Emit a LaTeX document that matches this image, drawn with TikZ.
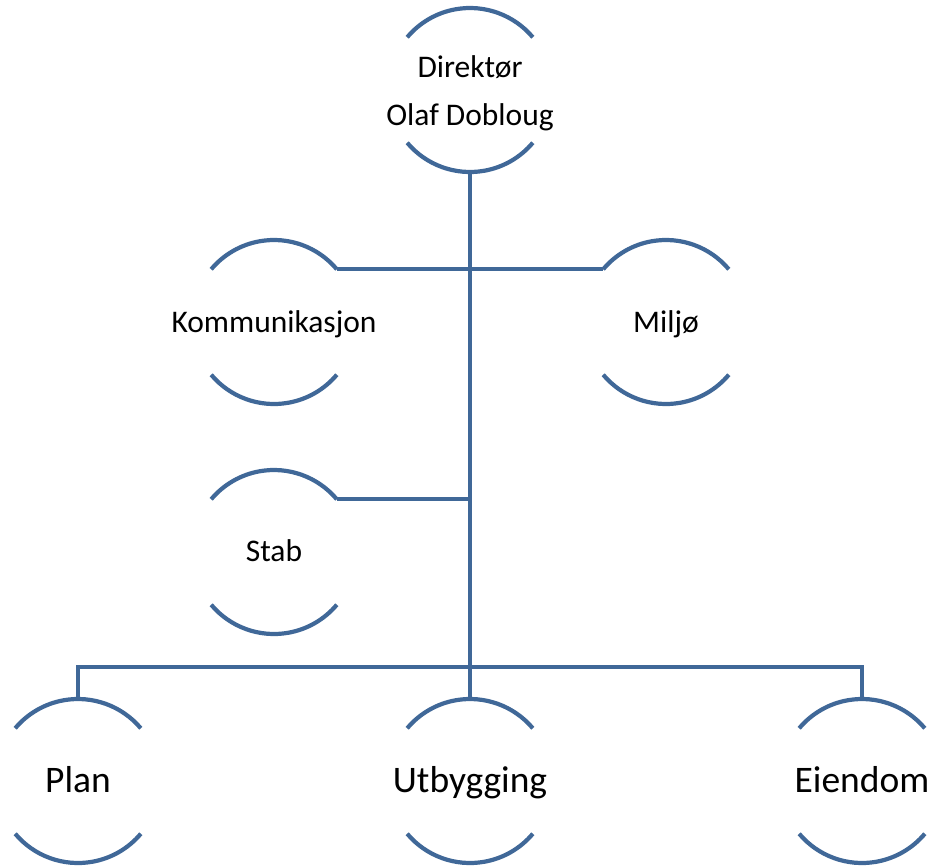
\documentclass[tikz,border=0pt]{standalone}
\usepackage{fontspec}
\setmainfont{Carlito}
\definecolor{arcblue}{RGB}{64,104,152}
\begin{document}
\begin{tikzpicture}[x=1pt,y=1pt,
  unit/.style={circle,minimum size=164pt,inner sep=0pt,outer sep=0pt},
  txt/.style={inner sep=0pt,align=center,text height=0.7em,text depth=0.2em},
  small/.style={txt,font=\fontsize{31.5}{38}\selectfont},
  large/.style={txt,font=\fontsize{37.5}{45}\selectfont},
  ln/.style={draw=arcblue,line width=4.2pt}]
\useasboundingbox (0,0) rectangle (933,-865);
\node[unit] (dir) at (470,-90) {};
\node[unit] (kom) at (274,-322) {};
\node[unit] (mil) at (666,-322) {};
\node[unit] (stab) at (274,-552) {};
\node[unit] (plan) at (78,-781) {};
\node[unit] (utb) at (470,-781) {};
\node[unit] (eie) at (862,-781) {};
\node[small] (dirA) at ([yshift=-67pt]dir.north) {Direktør};
\node[small] (dirB) at ([yshift=-115pt]dir.north) {Olaf Dobloug};
\node[small] (komT) at ([yshift=-8pt]kom) {Kommunikasjon};
\node[small] (milT) at ([yshift=-8pt]mil) {Miljø};
\node[small] (stabT) at ([yshift=-7pt]stab) {Stab};
\node[large] (planT) at ([yshift=-9pt]plan) {Plan};
\node[large] (utbT) at ([yshift=-9pt]utb) {Utbygging};
\node[large] (eieT) at ([yshift=-9pt]eie) {Eiendom};
\coordinate (bus) at (470,-667);
\foreach \n in {dir,kom,mil,stab,plan,utb,eie}{
  \draw[ln] (\n.40) arc[start angle=40,end angle=140,radius=82pt];
  \draw[ln] (\n.220) arc[start angle=220,end angle=320,radius=82pt];
}
\draw[ln] (dir.south) -- (utb.north);
\draw[ln] (kom.40) -- (mil.140);
\draw[ln] (stab.40) -- (stab.40 -| dir.south);
\draw[ln] (plan.north) -- (plan.north |- bus) -- (eie.north |- bus) -- (eie.north);
\end{tikzpicture}
\end{document}
